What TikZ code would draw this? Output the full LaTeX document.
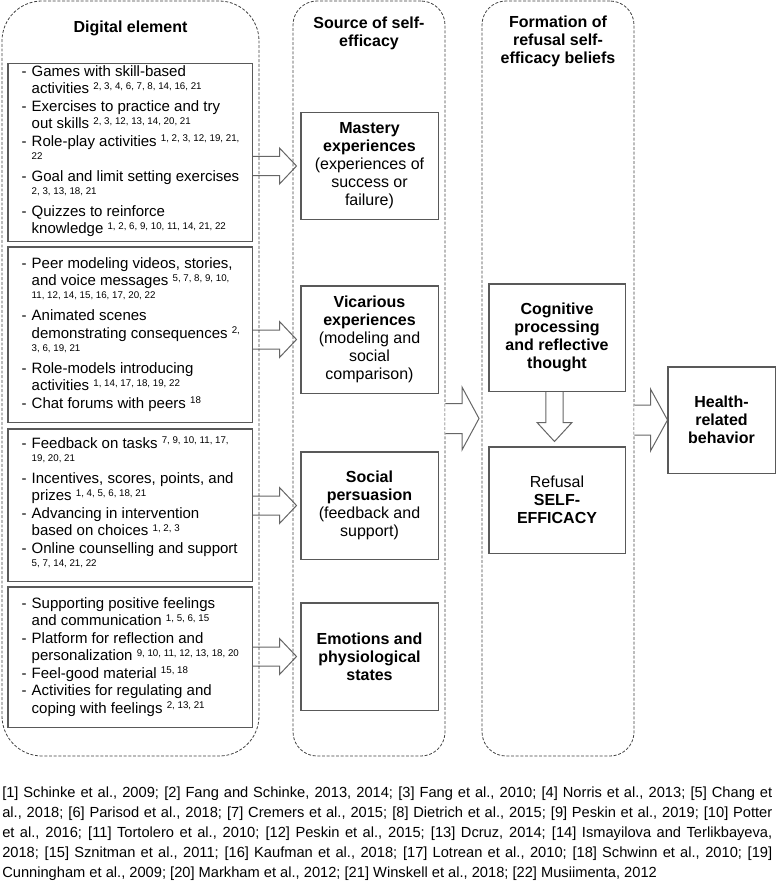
\documentclass[tikz,border=0pt]{standalone}
\usepackage{fontspec}
\setmainfont{Liberation Sans}
\usetikzlibrary{calc}
\newcommand\supn[1]{\raisebox{3.3pt}{\fontsize{7.3}{8}\selectfont #1}}
\newcommand\dsh{\makebox[7.6pt][l]{-}}
\newcommand\lind{\hspace*{7.6pt}}
% horizontal block arrow: start, tip, shaft half, head half, head length
\newcommand\harrow[5]{\draw[barrow] let \p1=(#1), \p2=(#2) in
  (\x1,\y2+#3) -- (\x2-#5,\y2+#3) -- (\x2-#5,\y2+#4) -- (\x2,\y2) --
  (\x2-#5,\y2-#4) -- (\x2-#5,\y2-#3) -- (\x1,\y2-#3);}
% downward block arrow: start, tip, shaft half, head half, head length
\newcommand\varrow[5]{\draw[barrow] let \p1=(#1), \p2=(#2) in
  (\x2-#3,\y1) -- (\x2-#3,\y2+#5) -- (\x2-#4,\y2+#5) -- (\x2,\y2) --
  (\x2+#4,\y2+#5) -- (\x2+#3,\y2+#5) -- (\x2+#3,\y1);}
\begin{document}
\begin{tikzpicture}[x=0.75pt,y=-0.75pt,
  cont/.style={draw=black!75, line width=0.6pt, dash pattern=on 2.2pt off 1.3pt,
    rounded corners=#1, inner sep=0pt, minimum height=566.25pt},
  dbox/.style={draw=black!65, line width=0.75pt, inner sep=0pt, minimum width=183pt},
  sbox/.style={draw=black!65, line width=0.75pt, inner sep=0pt, align=center,
    font=\fontsize{12}{13.5}\selectfont},
  lst/.style={inner sep=0pt, anchor=north west, align=left,
    font=\fontsize{11.25}{13.1}\selectfont},
  hdr/.style={inner sep=0pt, align=center, font=\fontsize{12}{13.5}\selectfont\bfseries},
  barrow/.style={draw=black!60, line width=0.75pt, fill=white, line join=miter},
  foot/.style={inner sep=0pt, anchor=north west, align=left,
    font=\fontsize{11}{15}\selectfont}
]
\useasboundingbox (0,0) rectangle (778,888);

% boxes (positions first, drawn later order handled by layering below)
\node[dbox, minimum height=132.75pt] (B1) at (130,152.5) {};
\node[dbox, minimum height=131.25pt] (B2) at (130,334.5) {};
\node[dbox, minimum height=114pt] (B3) at (130,505) {};
\node[dbox, minimum height=105pt] (B4) at (130,657) {};

\node[sbox, minimum width=102.75pt, minimum height=79.5pt] (S1) at (369.5,166)
  {\textbf{Mastery}\\\textbf{experiences}\\(experiences of\\success or\\failure)};
\node[sbox, minimum width=102.75pt, minimum height=80.25pt] (S2) at (369.5,339.5)
  {\textbf{Vicarious}\\\textbf{experiences}\\(modeling and\\social\\comparison)};
\node[sbox, minimum width=102.75pt, minimum height=80.25pt] (S3) at (369.5,505.5)
  {\textbf{Social}\\\textbf{persuasion}\\(feedback and\\support)};
\node[sbox, minimum width=102.75pt, minimum height=80.25pt] (S4) at (369.5,656.5)
  {\textbf{Emotions and}\\\textbf{physiological}\\\textbf{states}};

\node[sbox, minimum width=102pt, minimum height=80.25pt] (cog) at (557,337.5)
  {\textbf{Cognitive}\\\textbf{processing}\\\textbf{and reflective}\\\textbf{thought}};
\node[sbox, minimum width=102pt, minimum height=79.5pt] (ref) at (557,500)
  {Refusal\\\textbf{SELF-}\\\textbf{EFFICACY}};
\node[sbox, minimum width=80.25pt, minimum height=79.5pt] (hb) at (721.5,420)
  {\textbf{Health-}\\\textbf{related}\\\textbf{behavior}};

% block arrows
\coordinate (t1) at ($(S1.west)+(-4,0)$);
\coordinate (t2) at ($(S2.west)+(-4,0)$);
\coordinate (t3) at ($(S3.west)+(-4,0)$);
\coordinate (t4) at ($(S4.west)+(-4,0)$);
\harrow{B1.east |- t1}{t1}{7.125pt}{13.5pt}{12.75pt}
\harrow{B2.east |- t2}{t2}{7.125pt}{13.5pt}{12.75pt}
\harrow{B3.east |- t3}{t3}{7.125pt}{13.5pt}{12.75pt}
\harrow{B4.east |- t4}{t4}{7.125pt}{13.5pt}{12.75pt}

% containers
\node[cont=30pt, minimum width=192.75pt] (C1) at (130.5,378.5) {};
\node[cont=18pt, minimum width=114pt] (C2) at (369,378.5) {};
\node[cont=18pt, minimum width=114pt] (C3) at (558,378.5) {};

\coordinate (bt) at (479,418.5);
\harrow{C2.east |- bt}{bt}{11.25pt}{23.6pt}{12.75pt}
\harrow{C3.east |- hb.west}{hb.west}{11.25pt}{23.25pt}{12.75pt}
\coordinate (dt) at ($(ref.north)+(-2.5,-5)$);
\varrow{cog.south}{dt}{6.4pt}{13.1pt}{14.25pt}

% redraw boxes on top
\foreach \b in {B1,B2,B3,B4,S1,S2,S3,S4,cog,ref,hb}
  \draw[draw=black!65, line width=0.75pt] (\b.north west) rectangle (\b.south east);

% headers
\node[hdr] (H1) at (130.5,28) {Digital element};
\node[hdr] (H2) at (369,33) {Source of self-\\efficacy};
\node[hdr] (H3) at (558,41.5) {Formation of\\refusal self-\\efficacy beliefs};

% lists
\node[lst] (L1) at (21.3,63.8) {\strut\dsh Games with skill-based\\
 \lind activities \supn{2, 3, 4, 6, 7, 8, 14, 16, 21}\\
 \dsh Exercises to practice and try\\
 \lind out skills \supn{2, 3, 12, 13, 14, 20, 21}\\
 \dsh Role-play activities \supn{1, 2, 3, 12, 19, 21,}\\
 \lind\supn{22}\\
 \dsh Goal and limit setting exercises\\
 \lind\supn{2, 3, 13, 18, 21}\\
 \dsh Quizzes to reinforce\\
 \lind knowledge \supn{1, 2, 6, 9, 10, 11, 14, 21, 22}};
\node[lst] (L2) at (21.3,255.8) {\strut\dsh Peer modeling videos, stories,\\
 \lind and voice messages \supn{5, 7, 8, 9, 10,}\\
 \lind\supn{11, 12, 14, 15, 16, 17, 20, 22}\\
 \dsh Animated scenes\\
 \lind demonstrating consequences \supn{2,}\\
 \lind\supn{3, 6, 19, 21}\\
 \dsh Role-models introducing\\
 \lind activities \supn{1, 14, 17, 18, 19, 22}\\
 \dsh Chat forums with peers \supn{18}};
\node[lst] (L3) at (21.3,435.8) {\strut\dsh Feedback on tasks \supn{7, 9, 10, 11, 17,}\\
 \lind\supn{19, 20, 21}\\
 \dsh Incentives, scores, points, and\\
 \lind prizes \supn{1, 4, 5, 6, 18, 21}\\
 \dsh Advancing in intervention\\
 \lind based on choices \supn{1, 2, 3}\\
 \dsh Online counselling and support\\
 \lind\supn{5, 7, 14, 21, 22}};
\node[lst] (L4) at (21.3,595.8) {\strut\dsh Supporting positive feelings\\
 \lind and communication \supn{1, 5, 6, 15}\\
 \dsh Platform for reflection and\\
 \lind personalization \supn{9, 10, 11, 12, 13, 18, 20}\\
 \dsh Feel-good material \supn{15, 18}\\
 \dsh Activities for regulating and\\
 \lind coping with feelings \supn{2, 13, 21}};

% footer
\node[foot] (F) at (2,783.5) {\strut\makebox[577.5pt][s]{[1] Schinke et al., 2009; [2] Fang and Schinke, 2013, 2014; [3] Fang et al., 2010; [4] Norris et al., 2013; [5] Chang et}\\
\makebox[577.5pt][s]{al., 2018; [6] Parisod et al., 2018; [7] Cremers et al., 2015; [8] Dietrich et al., 2015; [9] Peskin et al., 2019; [10] Potter}\\
\makebox[577.5pt][s]{et al., 2016; [11] Tortolero et al., 2010; [12] Peskin et al., 2015; [13] Dcruz, 2014; [14] Ismayilova and Terlikbayeva,}\\
\makebox[577.5pt][s]{2018; [15] Sznitman et al., 2011; [16] Kaufman et al., 2018; [17] Lotrean et al., 2010; [18] Schwinn et al., 2010; [19]}\\
Cunningham et al., 2009; [20] Markham et al., 2012; [21] Winskell et al., 2018; [22] Musiimenta, 2012};
\end{tikzpicture}
\end{document}
